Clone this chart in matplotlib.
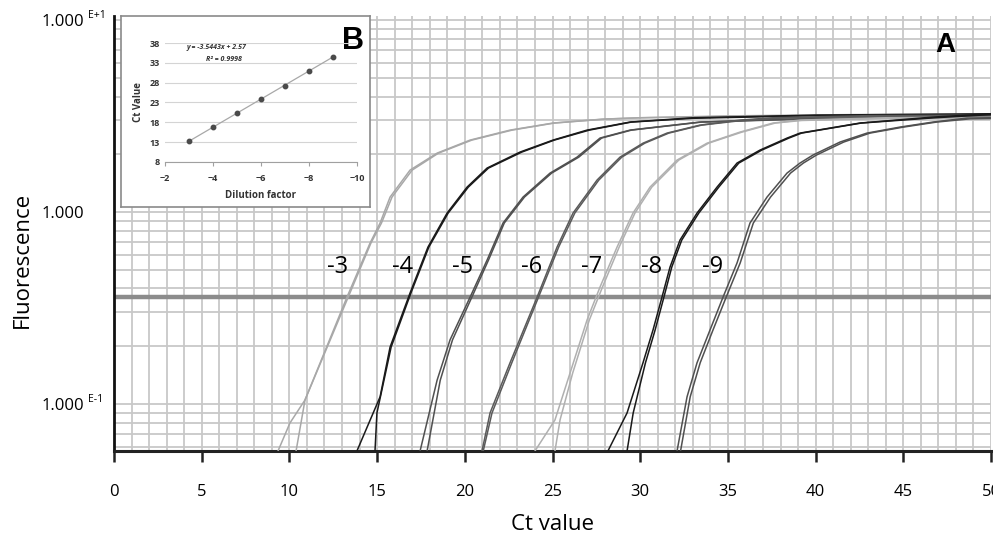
import matplotlib
matplotlib.use("Agg")
import matplotlib.pyplot as plt
from matplotlib.ticker import MultipleLocator, LogLocator, NullFormatter

plt.rcParams['font.family'] = ['Open Sans', 'DejaVu Sans']

# amplification curves, two replicates per dilution (Ct value, fluorescence)
dilutions = ['-3', '-4', '-5', '-6', '-7', '-8', '-9']
colors = ['#a8a8a8', '#1a1a1a', '#505050', '#5a5a5a', '#b0b0b0', '#1a1a1a', '#505050']

c3a_ct = [9.35, 10.03, 10.89, 13.28, 14.6, 15.17, 15.74, 16.88, 18.42, 20.3, 22.58, 25.03, 27.88, 30.0, 35.0, 42.0, 50.0]
c3a_f = [0.0569, 0.0796, 0.105, 0.36, 0.69, 0.877, 1.197, 1.655, 2.028, 2.371, 2.673, 2.909, 3.05, 3.1, 3.17, 3.22, 3.25]
c3b_ct = [10.38, 10.89, 13.35, 14.65, 15.25, 15.85, 17.0, 18.5, 20.4, 22.7, 25.1, 28.0, 30.0, 35.0, 42.0, 50.0]
c3b_f = [0.0569, 0.105, 0.36, 0.69, 0.877, 1.197, 1.655, 2.028, 2.371, 2.673, 2.909, 3.05, 3.1, 3.15, 3.2, 3.23]

c4a_ct = [13.85, 15.17, 15.74, 16.88, 17.9, 18.99, 20.13, 21.27, 23.15, 25.03, 26.97, 29.42, 33.0, 40.0, 50.0]
c4a_f = [0.0569, 0.109, 0.198, 0.379, 0.657, 0.988, 1.349, 1.695, 2.054, 2.371, 2.673, 2.944, 3.1, 3.2, 3.25]
c4b_ct = [14.88, 14.99, 15.8, 16.93, 17.95, 19.05, 20.2, 21.35, 23.25, 25.1, 27.1, 29.5, 33.0, 40.0, 50.0]
c4b_f = [0.0569, 0.0898, 0.198, 0.379, 0.657, 0.988, 1.349, 1.695, 2.054, 2.371, 2.673, 2.944, 3.08, 3.18, 3.22]

c5a_ct = [17.45, 18.42, 19.16, 20.3, 21.27, 22.18, 23.32, 24.86, 26.4, 27.71, 29.42, 33.41, 40.0, 50.0]
c5a_f = [0.0569, 0.133, 0.216, 0.36, 0.562, 0.877, 1.197, 1.596, 1.933, 2.43, 2.673, 2.944, 3.08, 3.15]
c5b_ct = [17.85, 18.6, 19.3, 20.4, 21.35, 22.25, 23.4, 24.95, 26.5, 27.8, 29.5, 33.5, 40.0, 50.0]
c5b_f = [0.0569, 0.133, 0.216, 0.36, 0.562, 0.877, 1.197, 1.596, 1.933, 2.43, 2.673, 2.944, 3.06, 3.12]

c6a_ct = [20.98, 21.44, 22.58, 24.12, 25.26, 26.17, 27.54, 28.85, 30.16, 31.53, 33.41, 35.69, 37.57, 43.0, 50.0]
c6a_f = [0.0569, 0.0898, 0.164, 0.36, 0.657, 0.988, 1.468, 1.933, 2.285, 2.579, 2.838, 3.015, 3.1, 3.18, 3.2]
c6b_ct = [21.05, 21.55, 22.68, 24.2, 25.35, 26.27, 27.64, 28.95, 30.26, 31.63, 33.5, 35.8, 37.7, 43.0, 50.0]
c6b_f = [0.0569, 0.0898, 0.164, 0.36, 0.657, 0.988, 1.468, 1.933, 2.285, 2.579, 2.838, 3.0, 3.08, 3.15, 3.18]

c7a_ct = [24.0, 25.14, 26.0, 26.97, 27.71, 28.68, 29.59, 30.56, 32.1, 33.81, 35.69, 37.57, 39.11, 44.0, 50.0]
c7a_f = [0.0569, 0.0826, 0.145, 0.274, 0.407, 0.657, 0.988, 1.349, 1.866, 2.285, 2.61, 2.909, 3.015, 3.1, 3.12]
c7b_ct = [25.14, 25.43, 26.15, 27.1, 27.85, 28.8, 29.7, 30.66, 32.2, 33.9, 35.8, 37.7, 39.2, 44.0, 50.0]
c7b_f = [0.0569, 0.0826, 0.145, 0.274, 0.407, 0.657, 0.988, 1.349, 1.866, 2.285, 2.61, 2.909, 3.0, 3.08, 3.1]

c8a_ct = [28.16, 29.25, 30.16, 30.73, 31.24, 31.7, 32.27, 33.24, 34.38, 35.52, 36.83, 38.37, 39.11, 42.53, 46.69, 50.0]
c8a_f = [0.0569, 0.0898, 0.164, 0.243, 0.36, 0.517, 0.715, 0.988, 1.349, 1.8, 2.103, 2.428, 2.579, 2.909, 3.125, 3.25]
c8b_ct = [29.25, 29.6, 30.3, 30.85, 31.35, 31.8, 32.37, 33.34, 34.48, 35.62, 36.93, 38.47, 39.2, 42.6, 46.8, 50.0]
c8b_f = [0.0569, 0.0898, 0.164, 0.243, 0.36, 0.517, 0.715, 0.988, 1.349, 1.8, 2.103, 2.428, 2.579, 2.909, 3.1, 3.22]

c9a_ct = [32.1, 32.67, 33.24, 33.98, 34.72, 35.52, 36.26, 37.23, 38.37, 39.11, 39.85, 41.39, 42.93, 44.81, 46.69, 48.63, 50.0]
c9a_f = [0.0569, 0.109, 0.164, 0.243, 0.36, 0.543, 0.877, 1.197, 1.596, 1.8, 1.982, 2.316, 2.579, 2.771, 2.944, 3.087, 3.1]
c9b_ct = [32.3, 32.85, 33.42, 34.15, 34.9, 35.7, 36.45, 37.43, 38.57, 39.3, 40.05, 41.6, 43.1, 45.0, 46.9, 48.8, 50.0]
c9b_f = [0.0569, 0.109, 0.164, 0.243, 0.36, 0.543, 0.877, 1.197, 1.596, 1.8, 1.982, 2.316, 2.579, 2.771, 2.944, 3.06, 3.07]

curves = [
    [(c3a_ct, c3a_f), (c3b_ct, c3b_f)],
    [(c4a_ct, c4a_f), (c4b_ct, c4b_f)],
    [(c5a_ct, c5a_f), (c5b_ct, c5b_f)],
    [(c6a_ct, c6a_f), (c6b_ct, c6b_f)],
    [(c7a_ct, c7a_f), (c7b_ct, c7b_f)],
    [(c8a_ct, c8a_f), (c8b_ct, c8b_f)],
    [(c9a_ct, c9a_f), (c9b_ct, c9b_f)],
]

label_ct = [12.77, 16.48, 19.9, 23.83, 27.25, 30.67, 34.15]
label_f = 0.517
threshold = 0.36

# inset B: standard curve
dil_factor = [-3, -4, -5, -6, -7, -8, -9]
ct_values = [13.2, 16.9, 20.25, 23.9, 27.25, 31.05, 34.4]
slope, intercept = -3.5443, 2.57

fig = plt.figure(figsize=(9.93, 5.38), dpi=100)
ax = fig.add_axes([0.1148, 0.1617, 0.8832, 0.8083])

ax.set_yscale('log')
ax.set_xlim(0, 50)
ax.set_ylim(0.0569, 10.49)

grid_c = '#c8c8c8'
ax.xaxis.set_major_locator(MultipleLocator(5))
ax.xaxis.set_minor_locator(MultipleLocator(1))
ax.yaxis.set_major_locator(LogLocator(base=10))
ax.yaxis.set_minor_locator(LogLocator(base=10, subs=[2, 3, 4, 5, 6, 7, 8, 9]))
ax.yaxis.set_minor_formatter(NullFormatter())
ax.grid(True, which='both', color=grid_c, lw=1.3, zorder=0)
ax.set_axisbelow(True)

for i, reps in enumerate(curves):
    for ct, f in reps:
        ax.plot(ct, f, color=colors[i], lw=1.1, zorder=3)
    ax.text(label_ct[i], label_f, dilutions[i], fontsize=17, ha='center', va='center', zorder=4)

ax.axhline(threshold, color='#8c8c8c', lw=3.2, zorder=2)

for s in ['top', 'right']:
    ax.spines[s].set_visible(False)
ax.spines['left'].set_color('#111111')
ax.spines['left'].set_linewidth(2)
ax.spines['bottom'].set_color('#222222')
ax.spines['bottom'].set_linewidth(2.2)

ax.tick_params(axis='x', which='major', direction='out', length=8, width=1.8,
               color='#222222', labelsize=12, pad=16)
ax.tick_params(axis='x', which='minor', length=0)
ax.tick_params(axis='y', which='both', length=0)
ax.set_yticks([0.1, 1, 10])
ax.set_yticklabels(['1.000', '1.000', '1.000'])
ax.tick_params(axis='y', labelsize=12, pad=52.5)
for lab in ax.get_yticklabels():
    lab.set_horizontalalignment('left')
for yv, ex in [(10, 'E+1'), (0.1, 'E-1')]:
    ax.annotate(ex, xy=(0, yv), xycoords=('axes fraction', 'data'), xytext=(-19, 3),
                textcoords='offset points', fontsize=7.5, ha='left', va='center')

ax.set_xlabel('Ct value', fontsize=16)
ax.xaxis.set_label_coords(0.5, -0.17)
ax.xaxis.label.set_verticalalignment('center')
ax.set_ylabel('Fluorescence', fontsize=16)
ax.yaxis.set_label_coords(-0.105, 0.44)
ax.yaxis.label.set_verticalalignment('center')

ax.text(0.9476, 0.933, 'A', transform=ax.transAxes, fontsize=20, fontweight='bold',
        family='Liberation Sans', ha='center', va='center')

# inset frame
box = fig.add_axes([0.1219, 0.6152, 0.2508, 0.355])
box.set_xticks([])
box.set_yticks([])
box.set_facecolor('white')
for s in box.spines.values():
    s.set_color('#8a8a8a')
    s.set_linewidth(1.2)
box.set_zorder(5)
box.text(0.93, 0.87, 'B', transform=box.transAxes, fontsize=22, fontweight='bold',
         family='Liberation Sans', ha='center', va='center')

ins = fig.add_axes([0.166, 0.699, 0.1934, 0.221])
ins.set_zorder(6)
ins.patch.set_alpha(0)
ins.set_xlim(-2, -10)
ins.set_ylim(8, 38)
ins.set_yticks([8, 13, 18, 23, 28, 33, 38])
ins.set_xticks([-2, -4, -6, -8, -10])
ins.grid(True, axis='y', color='#d4d4d4', lw=0.8)
ins.set_axisbelow(True)
for s in ['top', 'right', 'left']:
    ins.spines[s].set_visible(False)
ins.spines['bottom'].set_color('#a0a0a0')
ins.spines['bottom'].set_linewidth(0.8)
ins.tick_params(axis='both', labelsize=6.5, colors='#333333', length=0)
ins.tick_params(axis='x', length=3, color='#a0a0a0', pad=6)
for lab in ins.get_xticklabels() + ins.get_yticklabels():
    lab.set_fontweight('bold')

fit_x = [dil_factor[0], dil_factor[-1]]
fit_y = [slope * x + intercept for x in fit_x]
ins.plot(fit_x, fit_y, color='#a8a8a8', lw=0.9, zorder=2)
ins.plot(dil_factor, ct_values, 'o', color='#4a4a4a', ms=3.2, zorder=3)
ins.set_xlabel('Dilution factor', fontsize=7, fontweight='bold', color='#333333', labelpad=5)
ins.set_ylabel('Ct Value', fontsize=7, fontweight='bold', color='#333333', labelpad=4)
ins.text(-2.9, 36.8, 'y = -3.5443x + 2.57', fontsize=5, fontweight='bold', style='italic',
         color='#333333', ha='left', va='center')
ins.text(-3.7, 33.9, 'R² = 0.9998', fontsize=5, fontweight='bold', style='italic',
         color='#333333', ha='left', va='center')

fig.savefig('out.png', dpi=100)
